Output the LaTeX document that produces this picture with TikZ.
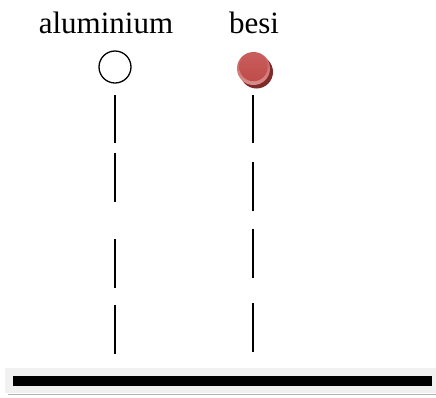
\documentclass[tikz,border=0pt]{standalone}
\usepackage{fontspec}
\setmainfont{Liberation Serif}
\begin{document}
\begin{tikzpicture}[x=1pt,y=-1pt,
  label/.style={inner sep=0pt,anchor=base,font=\fontsize{31}{31}\selectfont},
  seg/.style={line width=1.5pt,black}]
\definecolor{ballTop}{HTML}{C75A58}
\definecolor{ballBot}{HTML}{DA8E8C}
\definecolor{coreTop}{HTML}{C95E5C}
\definecolor{coreBot}{HTML}{BE4C4A}
\definecolor{ballShade}{HTML}{7E2B2A}
\definecolor{trayBg}{HTML}{F1F1F1}
\definecolor{trayLine}{HTML}{B4B4B4}
\useasboundingbox (0,0) rectangle (436,397);

% labels
\node[label] (alLabel) at (106,33) {aluminium};
\node[label] (feLabel) at (254,33) {besi};

% hollow aluminium ball
\node[draw,circle,line width=1.3pt,minimum size=32pt,inner sep=0pt] (alBall) at (115,67) {};

% shaded iron ball: drop shadow, glossy rim, darker core
\fill[ballShade] (256.5,72) circle (16.5);
\shade[top color=ballTop,bottom color=ballBot] (253.5,68.5) circle (16.5);
\shade[top color=coreTop,bottom color=coreBot] (253.5,67) circle (14.2);
\node[circle,minimum size=33pt,inner sep=0pt] (feBall) at (253.5,68.5) {};

% floor tray
\fill[trayBg] (5,368) rectangle (436,393);
\draw[trayLine,line width=1.2pt] (8,394.5) -- (436,394.5);
\node[fill=black,inner sep=0pt,minimum width=419pt,minimum height=10pt,anchor=north west] (floor) at (13,376) {};

% aluminium drop trace
\coordinate (a1) at (115,95);  \coordinate (a2) at (115,143);
\coordinate (a3) at (115,153); \coordinate (a4) at (115,202);
\coordinate (a5) at (115,239); \coordinate (a6) at (115,288);
\coordinate (a7) at (115,305); \coordinate (a8) at (115,354);
\draw[seg] (a1) -- (a2) (a3) -- (a4) (a5) -- (a6) (a7) -- (a8);

% iron drop trace
\coordinate (b1) at (253,95);  \coordinate (b2) at (253,143);
\coordinate (b3) at (253,162); \coordinate (b4) at (253,211);
\coordinate (b5) at (253,229); \coordinate (b6) at (253,278);
\coordinate (b7) at (253,303); \coordinate (b8) at (253,352);
\draw[seg] (b1) -- (b2) (b3) -- (b4) (b5) -- (b6) (b7) -- (b8);
\end{tikzpicture}
\end{document}
